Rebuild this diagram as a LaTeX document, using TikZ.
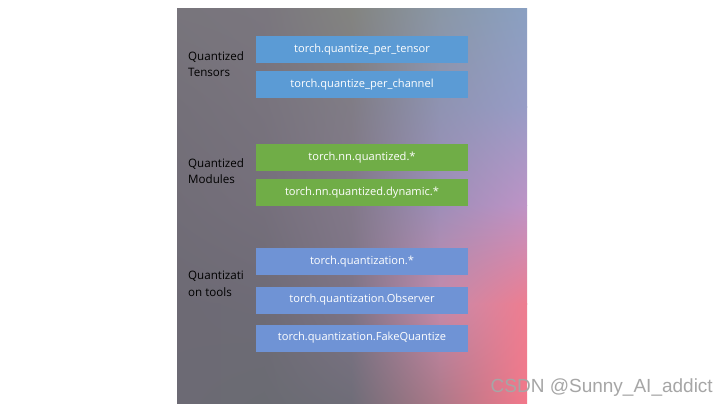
\documentclass[tikz,border=0pt]{standalone}
\usepackage{fontspec}
\setmainfont{Open Sans}
\setsansfont{Liberation Sans}
\usetikzlibrary{shadings}
\definecolor{c00}{HTML}{78757C}\definecolor{c10}{HTML}{7A767E}\definecolor{c20}{HTML}{838480}\definecolor{c30}{HTML}{8A97A6}\definecolor{c40}{HTML}{8AA0C2}
\definecolor{c01}{HTML}{747079}\definecolor{c11}{HTML}{78737D}\definecolor{c21}{HTML}{807C86}\definecolor{c31}{HTML}{8F93B2}\definecolor{c41}{HTML}{979CC6}
\definecolor{c02}{HTML}{716D77}\definecolor{c12}{HTML}{756F7B}\definecolor{c22}{HTML}{827889}\definecolor{c32}{HTML}{9E8EB8}\definecolor{c42}{HTML}{BE93C6}
\definecolor{c03}{HTML}{6D6A74}\definecolor{c13}{HTML}{6E6B76}\definecolor{c23}{HTML}{7E7486}\definecolor{c33}{HTML}{C68AAA}\definecolor{c43}{HTML}{EE7D90}
\definecolor{c04}{HTML}{6C6A74}\definecolor{c14}{HTML}{6A6B72}\definecolor{c24}{HTML}{6F6D78}\definecolor{c34}{HTML}{AC7888}\definecolor{c44}{HTML}{F3788A}
\definecolor{boxblue}{HTML}{5B9BD5}
\definecolor{boxgreen}{HTML}{70AD47}
\definecolor{toolblue}{HTML}{6F93D5}
\definecolor{wm}{HTML}{A6A6A6}
% gradient cell: col index, row index (0-3)
\newcommand\gradcell[2]{%
  \pgfmathtruncatemacro\gcI{#1}\pgfmathtruncatemacro\gcJ{#2}%
  \pgfmathtruncatemacro\gcA{#1+1}\pgfmathtruncatemacro\gcB{#2+1}%
  \edef\gcUL{c\gcI\gcJ}\edef\gcUR{c\gcA\gcJ}\edef\gcLL{c\gcI\gcB}\edef\gcLR{c\gcA\gcB}%
  \shade[upper left=\gcUL, upper right=\gcUR, lower left=\gcLL, lower right=\gcLR]
    ({177+87.5*\gcI-0.4},{8+98.75*\gcJ-0.4}) rectangle ({177+87.5*\gcA+0.4},{8+98.75*\gcB+0.4});}
\tikzset{
  apibox/.style={minimum width=212pt, minimum height=27pt, inner sep=0pt,
    text=white, font=\fontsize{11.1}{14}\selectfont},
  grouplabel/.style={anchor=west, align=left, text=black, inner sep=0pt,
    font=\fontsize{11.6}{16.5}\selectfont}
}
\begin{document}
\begin{tikzpicture}[x=1pt,y=-1pt]
\useasboundingbox (0,0) rectangle (720,405);
\fill[white] (0,0) rectangle (720,405);
\begin{scope}
  \clip (177,8) rectangle (527,403);
  \foreach \i in {0,1,2,3}{\foreach \j in {0,1,2,3}{\gradcell{\i}{\j}}}
\end{scope}

\node[apibox, fill=boxblue] (t1) at (362,49.5) {torch.quantize\_per\_tensor};
\node[apibox, fill=boxblue] (t2) at (362,84.5) {torch.quantize\_per\_channel};
\node[apibox, fill=boxgreen] (m1) at (362,157.5) {torch.nn.quantized.*};
\node[apibox, fill=boxgreen] (m2) at (362,192.5) {torch.nn.quantized.dynamic.*};
\node[apibox, fill=toolblue] (q1) at (362,261.5) {torch.quantization.*};
\node[apibox, fill=toolblue] (q2) at (362,300) {torch.quantization.Observer};
\node[apibox, fill=toolblue] (q3) at (362,338) {torch.quantization.FakeQuantize};

\node[grouplabel] (l1) at (188,64) {Quantized\\Tensors};
\node[grouplabel] (l2) at (188,171) {Quantized\\Modules};
\node[grouplabel] (l3) at (188,284) {Quantizati\\on tools};

\node[anchor=base east, text=wm, inner sep=0pt, font=\sffamily\fontsize{19}{22}\selectfont] (wmk) at (713,392) {CSDN @Sunny\_AI\_addict};
\end{tikzpicture}
\end{document}
